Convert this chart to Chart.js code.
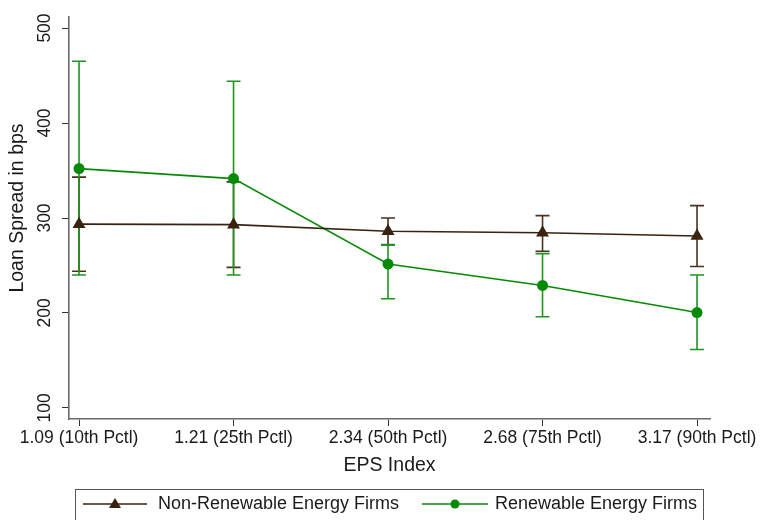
<!DOCTYPE html>
<html>
<head>
<meta charset="utf-8">
<script src="https://cdn.jsdelivr.net/npm/chart.js@4.4.1/dist/chart.umd.min.js"></script>
<style>
  html, body { margin: 0; padding: 0; background: #fff; }
  #wrap { width: 761px; height: 520px; position: relative; }
</style>
</head>
<body>
<div id="wrap"><canvas id="chart"></canvas></div>
<script>
// categories (EPS index percentiles)
const xLabels = ['1.09 (10th Pctl)', '1.21 (25th Pctl)', '2.34 (50th Pctl)', '2.68 (75th Pctl)', '3.17 (90th Pctl)'];
const yTicks = [100, 200, 300, 400, 500];

// Non-renewable energy firms: point estimate and 95% CI
const nonRenMean = [293.5, 293, 286, 284.5, 281];
const nonRenLow  = [244, 248, 271.5, 265, 249];
const nonRenHigh = [343, 338, 300, 302.5, 313];

// Renewable energy firms
const renMean = [352, 341.5, 251.5, 229, 200.5];
const renLow  = [240, 240, 215, 196, 161.5];
const renHigh = [465, 444, 272, 262.5, 240];

const brown = '#3a2210';
const brownBar = '#4a3220';
const green = '#078a07';
const greenBar = '#1e961e';
const textCol = '#1a1a1a';
const FONT = 'Liberation Sans, Arial, sans-serif';

const toXY = arr => arr.map((v, i) => ({ x: i, y: v }));

// error bars (rcap) drawn under the connected lines
const errorBars = {
  id: 'errorBars',
  beforeDatasetsDraw(chart) {
    const { ctx, scales: { x, y } } = chart;
    const sets = [
      { lo: nonRenLow, hi: nonRenHigh, color: brownBar },
      { lo: renLow, hi: renHigh, color: greenBar }
    ];
    ctx.save();
    ctx.lineWidth = 1.6;
    sets.forEach(s => {
      ctx.strokeStyle = s.color;
      s.lo.forEach((lo, i) => {
        const px = x.getPixelForValue(i);
        const yl = y.getPixelForValue(lo);
        const yh = y.getPixelForValue(s.hi[i]);
        ctx.beginPath();
        ctx.moveTo(px, yl); ctx.lineTo(px, yh);
        ctx.moveTo(px - 7, yl); ctx.lineTo(px + 7, yl);
        ctx.moveTo(px - 7, yh); ctx.lineTo(px + 7, yh);
        ctx.stroke();
      });
    });
    ctx.restore();
  }
};

// rotated y tick labels, y title and the boxed legend
const extras = {
  id: 'extras',
  afterDraw(chart) {
    const { ctx, scales: { y } } = chart;
    ctx.save();
    ctx.fillStyle = textCol;
    ctx.textAlign = 'center';
    ctx.textBaseline = 'middle';
    ctx.font = '17.5px ' + FONT;
    yTicks.forEach(v => {
      ctx.save();
      ctx.translate(45, y.getPixelForValue(v));
      ctx.rotate(-Math.PI / 2);
      ctx.fillText(String(v), 0, 0);
      ctx.restore();
    });
    ctx.font = '19.5px ' + FONT;
    ctx.save();
    ctx.translate(18, 208);
    ctx.rotate(-Math.PI / 2);
    ctx.fillText('Loan Spread in bps', 0, 0);
    ctx.restore();

    // legend
    ctx.strokeStyle = '#555';
    ctx.lineWidth = 1;
    ctx.strokeRect(75.5, 489.5, 628, 40);
    const items = [
      { label: 'Non-Renewable Energy Firms', color: brown, x0: 83, x1: 147, tx: 158, marker: 'tri' },
      { label: 'Renewable Energy Firms', color: green, x0: 422, x1: 488, tx: 495, marker: 'circ' }
    ];
    const ly = 504;
    ctx.textAlign = 'left';
    ctx.font = '18px ' + FONT;
    items.forEach(it => {
      ctx.strokeStyle = it.color;
      ctx.lineWidth = 1.6;
      ctx.beginPath();
      ctx.moveTo(it.x0, ly); ctx.lineTo(it.x1, ly);
      ctx.stroke();
      const mx = (it.x0 + it.x1) / 2;
      ctx.fillStyle = it.color;
      ctx.beginPath();
      if (it.marker === 'tri') {
        ctx.moveTo(mx, ly - 6); ctx.lineTo(mx + 6, ly + 4); ctx.lineTo(mx - 6, ly + 4);
        ctx.closePath();
      } else {
        ctx.arc(mx, ly, 4.5, 0, Math.PI * 2);
      }
      ctx.fill();
      ctx.fillStyle = textCol;
      ctx.fillText(it.label, it.tx, ly);
    });
    ctx.restore();
  }
};

new Chart(document.getElementById('chart').getContext('2d'), {
  type: 'line',
  data: {
    datasets: [
      {
        label: 'Non-Renewable Energy Firms',
        data: toXY(nonRenMean),
        borderColor: brown,
        backgroundColor: brown,
        borderWidth: 1.6,
        pointStyle: 'triangle',
        pointRadius: 7.5,
        pointBorderWidth: 0,
        tension: 0
      },
      {
        label: 'Renewable Energy Firms',
        data: toXY(renMean),
        borderColor: green,
        backgroundColor: green,
        borderWidth: 1.6,
        pointStyle: 'circle',
        pointRadius: 5.5,
        pointBorderWidth: 0,
        tension: 0
      }
    ]
  },
  options: {
    responsive: true,
    maintainAspectRatio: false,
    animation: false,
    layout: { padding: { left: 0, right: 51, top: 17, bottom: 40 } },
    plugins: {
      legend: { display: false },
      tooltip: { enabled: false }
    },
    scales: {
      x: {
        type: 'linear',
        min: -0.065,
        max: 4.084,
        afterBuildTicks: s => { s.ticks = xLabels.map((_, i) => ({ value: i })); },
        afterFit: s => { s.height = 61; },
        border: { display: true, color: '#6a6a6a', width: 1.6 },
        grid: { drawOnChartArea: false, drawTicks: true, tickLength: 7, color: '#333' },
        ticks: {
          autoSkip: false,
          maxRotation: 0,
          padding: 2,
          color: textCol,
          font: { family: FONT, size: 17.5 },
          callback: v => xLabels[v]
        },
        title: {
          display: true,
          text: 'EPS Index',
          color: textCol,
          font: { family: FONT, size: 19.5 },
          padding: { top: 0, bottom: 3 }
        }
      },
      y: {
        min: 88.4,
        max: 511.6,
        afterBuildTicks: s => { s.ticks = yTicks.map(v => ({ value: v })); },
        afterFit: s => { s.width = 69; },
        border: { display: true, color: '#6a6a6a', width: 1.6 },
        grid: { drawOnChartArea: false, drawTicks: true, tickLength: 7, color: '#333' },
        ticks: { color: 'rgba(0,0,0,0)', font: { family: FONT, size: 17 } }
      }
    }
  },
  plugins: [errorBars, extras]
});
</script>
</body>
</html>
